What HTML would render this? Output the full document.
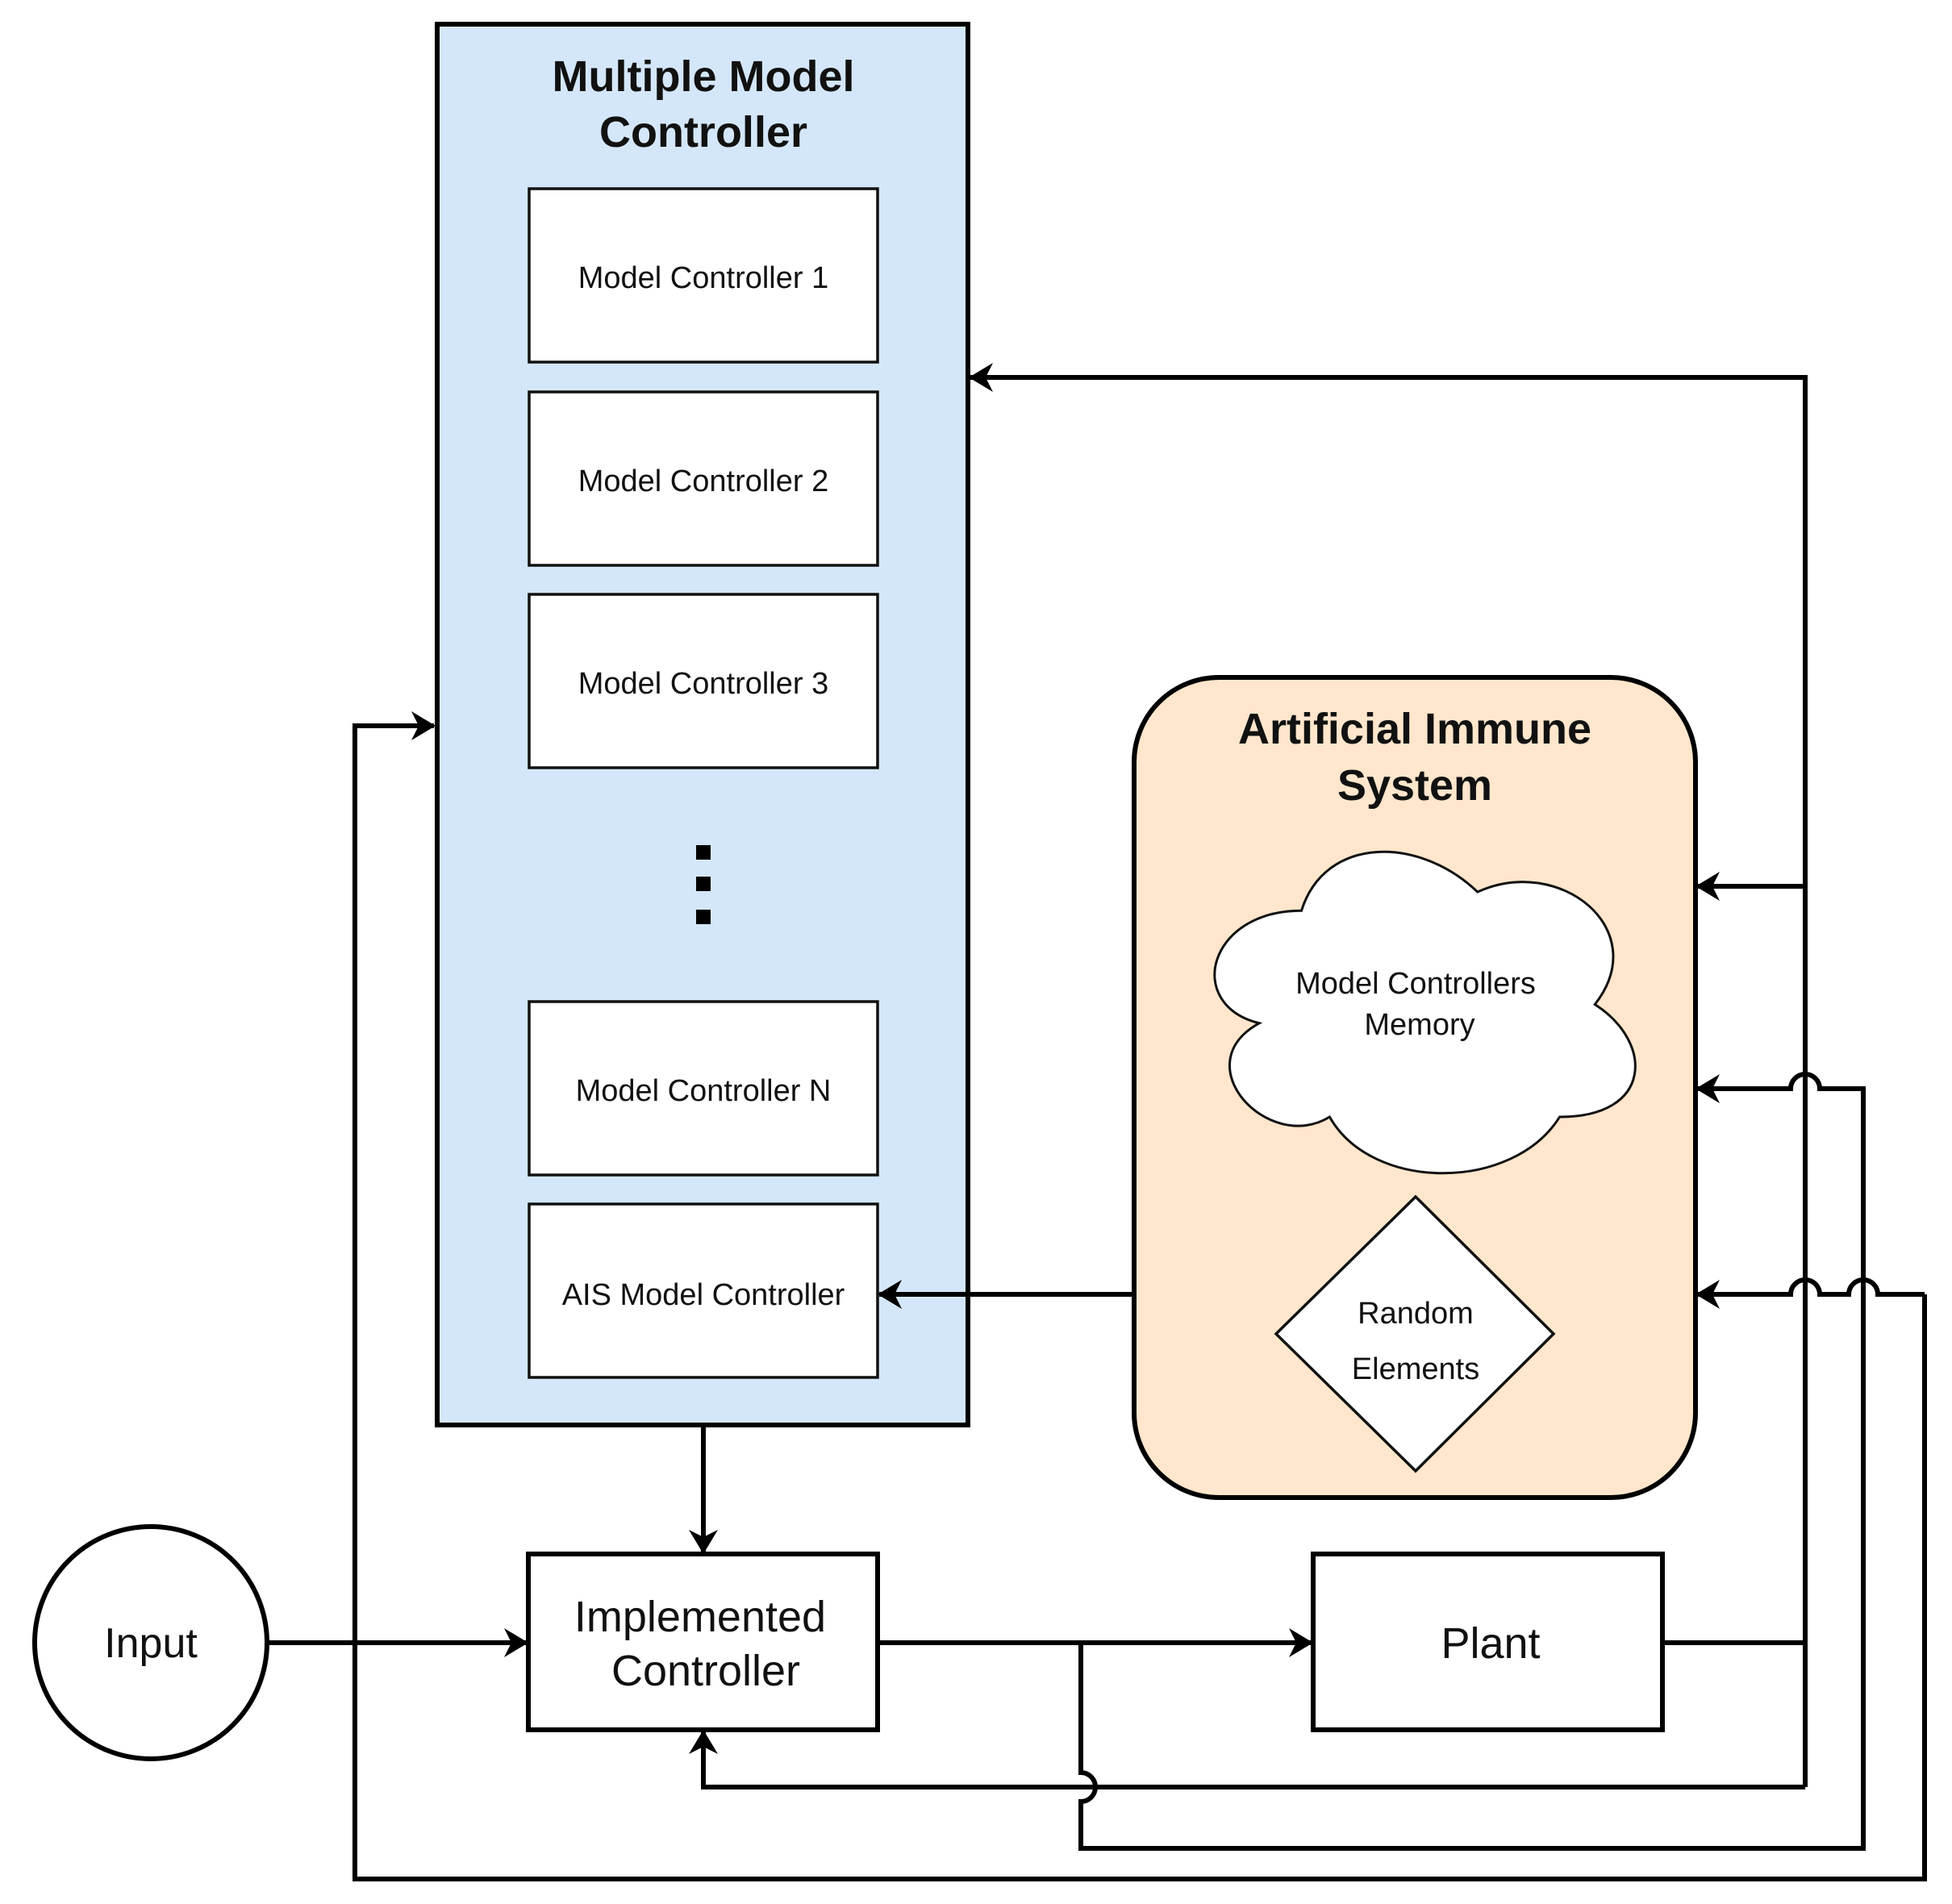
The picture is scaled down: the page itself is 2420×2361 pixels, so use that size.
<!DOCTYPE html>
<html><head><meta charset="utf-8"><style>
html,body{margin:0;padding:0;background:#fff;}
svg{display:block;}
text{font-family:"Liberation Sans",Arial,sans-serif;fill:#111;}
</style></head><body>
<svg width="2420" height="2361" viewBox="0 0 2420 2361" xmlns="http://www.w3.org/2000/svg">
<defs>
<marker id="a" viewBox="0 0 30 36" refX="28" refY="18" markerWidth="30" markerHeight="36" markerUnits="userSpaceOnUse" orient="auto">
<path d="M0,0 L30,18 L0,36 L9,18 Z" fill="#000"/>
</marker>
</defs>
<rect x="542" y="30" width="658" height="1737" fill="#d4e7fa" stroke="#000" stroke-width="6"/>
<text x="872" y="113" font-size="54" font-weight="bold" text-anchor="middle">Multiple Model</text>
<text x="872" y="182" font-size="54" font-weight="bold" text-anchor="middle">Controller</text>
<g fill="#fff" stroke="#111" stroke-width="3.5">
<rect x="656" y="234" width="432" height="215"/>
<rect x="656" y="486" width="432" height="215"/>
<rect x="656" y="737" width="432" height="215"/>
<rect x="656" y="1242" width="432" height="215"/>
<rect x="656" y="1493" width="432" height="215"/>
</g>
<g font-size="38" text-anchor="middle">
<text x="872" y="357">Model Controller 1</text>
<text x="872" y="609">Model Controller 2</text>
<text x="872" y="860">Model Controller 3</text>
<text x="872" y="1365">Model Controller N</text>
<text x="872" y="1618">AIS Model Controller</text>
</g>
<rect x="863" y="1048" width="18" height="18" fill="#000"/>
<rect x="863" y="1087" width="18" height="18" fill="#000"/>
<rect x="863" y="1128" width="18" height="18" fill="#000"/>
<rect x="1406" y="840" width="696" height="1017" rx="105" fill="#ffe6cc" stroke="#000" stroke-width="6"/>
<text x="1754" y="922" font-size="54" font-weight="bold" text-anchor="middle">Artificial Immune</text>
<text x="1754" y="992" font-size="54" font-weight="bold" text-anchor="middle">System</text>
<path transform="translate(1468,1013) scale(582,465)" d="M0.25,0.25 C0.05,0.25 0,0.5 0.16,0.55 C0,0.66 0.18,0.9 0.31,0.8 C0.4,1 0.7,1 0.8,0.8 C1,0.8 1,0.6 0.875,0.5 C1,0.3 0.8,0.1 0.625,0.2 C0.5,0.05 0.3,0.05 0.25,0.25 Z" fill="#fff" stroke="#111" vector-effect="non-scaling-stroke" style="stroke-width:3"/>
<text x="1755" y="1232" font-size="38" text-anchor="middle">Model Controllers</text>
<text x="1760" y="1283" font-size="38" text-anchor="middle">Memory</text>
<path d="M1755,1484 L1926,1654 L1755,1824 L1582,1654 Z" fill="#fff" stroke="#111" stroke-width="3.5"/>
<text x="1755" y="1641" font-size="38" text-anchor="middle">Random</text>
<text x="1755" y="1710" font-size="38" text-anchor="middle">Elements</text>
<circle cx="187" cy="2037" r="144" fill="#fff" stroke="#000" stroke-width="6"/>
<text x="187" y="2055" font-size="52" text-anchor="middle">Input</text>
<rect x="655" y="1927" width="433" height="218" fill="#fff" stroke="#000" stroke-width="6"/>
<text x="868" y="2023" font-size="54" text-anchor="middle">Implemented</text>
<text x="875" y="2090" font-size="54" text-anchor="middle">Controller</text>
<rect x="1628" y="1927" width="433" height="218" fill="#fff" stroke="#000" stroke-width="6"/>
<text x="1848" y="2056" font-size="54" text-anchor="middle">Plant</text>
<g fill="none" stroke="#000" stroke-width="6">
<path d="M332,2037 L653,2037" marker-end="url(#a)"/>
<path d="M872,1767 L872,1925" marker-end="url(#a)"/>
<path d="M1088,2037 L1626,2037" marker-end="url(#a)"/>
<path d="M1406,1605 L1090,1605" marker-end="url(#a)"/>
<path d="M2061,2037 L2238,2037"/>
<path d="M2238,2216 L2238,468 L1203,468" marker-end="url(#a)"/>
<path d="M2238,1099 L2104,1099" marker-end="url(#a)"/>
<path d="M2238,2216 L872,2216 L872,2147" marker-end="url(#a)"/>
<path d="M1340,2037 L1340,2198 A18,18 0 0 1 1340,2234 L1340,2292 L2310,2292 L2310,1350 L2256,1350 A18,18 0 0 0 2220,1350 L2104,1350" marker-end="url(#a)"/>
<path d="M2386,1605 L2386,2330 L440,2330 L440,900 L538,900" marker-end="url(#a)"/>
<path d="M2386,1605 L2328,1605 A18,18 0 0 0 2292,1605 L2256,1605 A18,18 0 0 0 2220,1605 L2104,1605" marker-end="url(#a)"/>
</g>
</svg>
</body></html>
